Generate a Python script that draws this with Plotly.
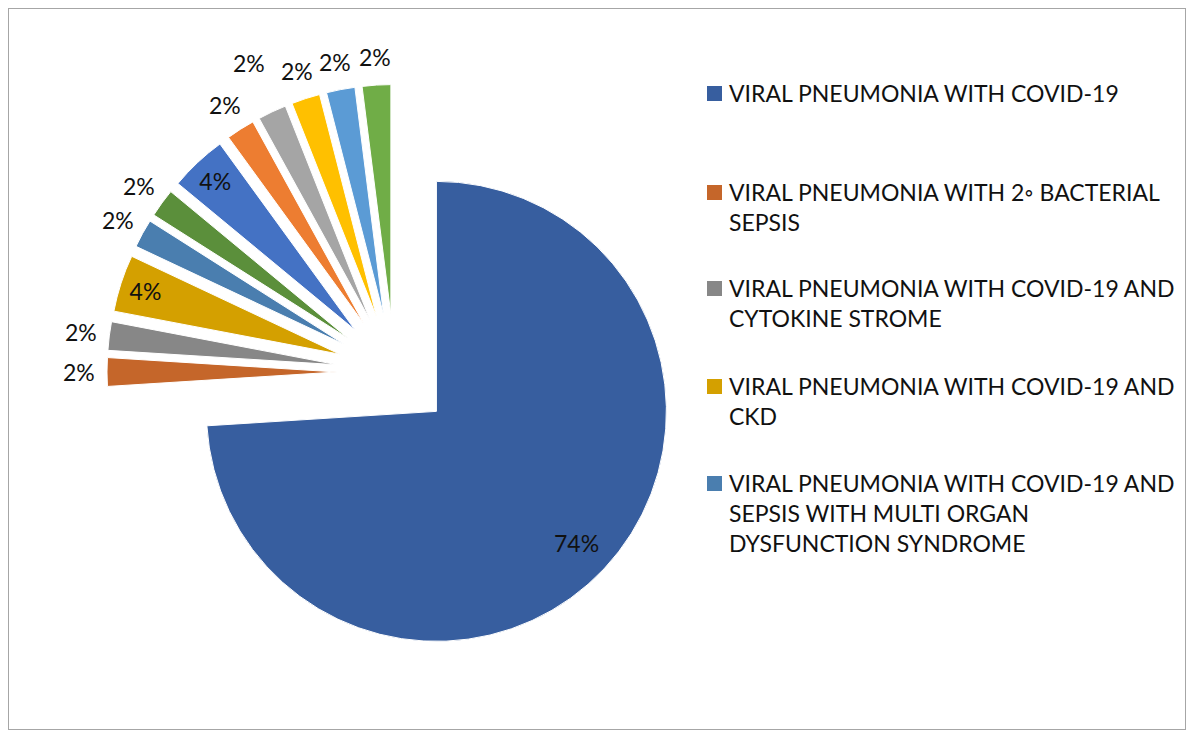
import math
import plotly.graph_objects as go

# ---- data ----
labels = [
    "VIRAL PNEUMONIA WITH COVID-19",
    "VIRAL PNEUMONIA WITH 2◦ BACTERIAL SEPSIS",
    "VIRAL PNEUMONIA WITH COVID-19 AND CYTOKINE STROME",
    "VIRAL PNEUMONIA WITH COVID-19 AND CKD",
    "VIRAL PNEUMONIA WITH COVID-19 AND SEPSIS WITH MULTI ORGAN DYSFUNCTION SYNDROME",
    "Diagnosis 6",
    "Diagnosis 7",
    "Diagnosis 8",
    "Diagnosis 9",
    "Diagnosis 10",
    "Diagnosis 11",
    "Diagnosis 12",
]
values = [74, 2, 2, 4, 2, 2, 4, 2, 2, 2, 2, 2]
legend_text = [
    "VIRAL PNEUMONIA WITH COVID-19",
    "VIRAL PNEUMONIA WITH 2◦ BACTERIAL<br>SEPSIS",
    "VIRAL PNEUMONIA WITH COVID-19 AND<br>CYTOKINE STROME",
    "VIRAL PNEUMONIA WITH COVID-19 AND<br>CKD",
    "VIRAL PNEUMONIA WITH COVID-19 AND<br>SEPSIS WITH MULTI ORGAN<br>DYSFUNCTION SYNDROME",
]

colors = ["#375E9F", "#C5662A", "#878787", "#D4A000", "#4A7EAF", "#5B8F3B",
          "#4472C4", "#ED7D31", "#A5A5A5", "#FFC000", "#5B9BD5", "#70AD47"]

# the page adds an 8px body margin, so the figure itself is the bordered chart area
W, H = 1178, 722
FONT = "Lato"
FS = 23
TXT = "#111111"

PULL = 0.25
pull = [PULL] * len(values)

# pie geometry (figure pixels); plotly radius = half box / (1 + max pull)
pie_cx, pie_cy, pie_r = 386.5, 364, 230
half = pie_r * (1 + PULL)

total = sum(values)
# labels drawn by plotly inside the medium slices; the rest as annotations
inside_plotly = [i for i, v in enumerate(values) if 0 < v / total < 0.5 and v >= 4]
texttemplate = ["%{percent:.0%}" if i in inside_plotly else "" for i in range(len(values))]

fig = go.Figure()
fig.add_trace(go.Pie(
    labels=labels,
    values=values,
    sort=False,
    direction="clockwise",
    rotation=0,
    pull=pull,
    marker=dict(colors=colors, line=dict(color="white", width=1)),
    texttemplate=texttemplate,
    textposition="inside",
    insidetextorientation="horizontal",
    textfont=dict(family=FONT, size=FS, color=TXT),
    automargin=False,
    showlegend=False,
    hoverinfo="label+percent",
    domain=dict(x=[(pie_cx - half - 20) / W, (pie_cx + half + 20) / W],
                y=[1 - (pie_cy + half) / H, 1 - (pie_cy - half) / H]),
))

annotations = []

# data labels positioned along each slice's bisector
label_gap = 28.5
extra_out = {8: 26}  # label pushed outward to avoid overlap
cum = 0
for i, v in enumerate(values):
    theta = 2 * math.pi * (cum + v / 2) / total
    cum += v
    ux, uy = math.sin(theta), -math.cos(theta)
    pct = f"{round(100 * v / total)}%"
    if i in inside_plotly:
        continue
    if v / total >= 0.5:
        d = PULL * pie_r + 0.835 * pie_r
    else:
        d = pie_r * (1 + PULL) + label_gap + extra_out.get(i, 0)
    x = pie_cx + d * ux
    y = pie_cy + d * uy
    annotations.append(dict(xref="paper", yref="paper", x=x / W, y=1 - y / H,
                            xanchor="center", yanchor="middle", text=pct,
                            showarrow=False,
                            font=dict(family=FONT, size=FS, color=TXT)))

# manual legend (only the first five entries are visible in the reference)
legend_y = [85, 184, 280, 378, 475]
shapes = [dict(type="rect", xref="paper", yref="paper",
               x0=0, x1=1, y0=0, y1=1,
               line=dict(color="#A6A6A6", width=2), fillcolor="rgba(0,0,0,0)")]
for i, t in enumerate(legend_text):
    yc = legend_y[i]
    shapes.append(dict(type="rect", xref="paper", yref="paper",
                       x0=699 / W, x1=714 / W,
                       y0=1 - (yc + 8) / H, y1=1 - (yc - 7) / H,
                       line=dict(width=0), fillcolor=colors[i]))
    annotations.append(dict(xref="paper", yref="paper", x=719 / W,
                            y=1 - (yc - 16) / H, xanchor="left", yanchor="top",
                            text=t, align="left", showarrow=False,
                            font=dict(family=FONT, size=FS, color=TXT)))

fig.update_layout(
    width=W, height=H,
    autosize=False,
    margin=dict(l=0, r=0, t=0, b=0, pad=0, autoexpand=False),
    paper_bgcolor="white",
    plot_bgcolor="white",
    shapes=shapes,
    annotations=annotations,
)

fig.write_html("out.html")
